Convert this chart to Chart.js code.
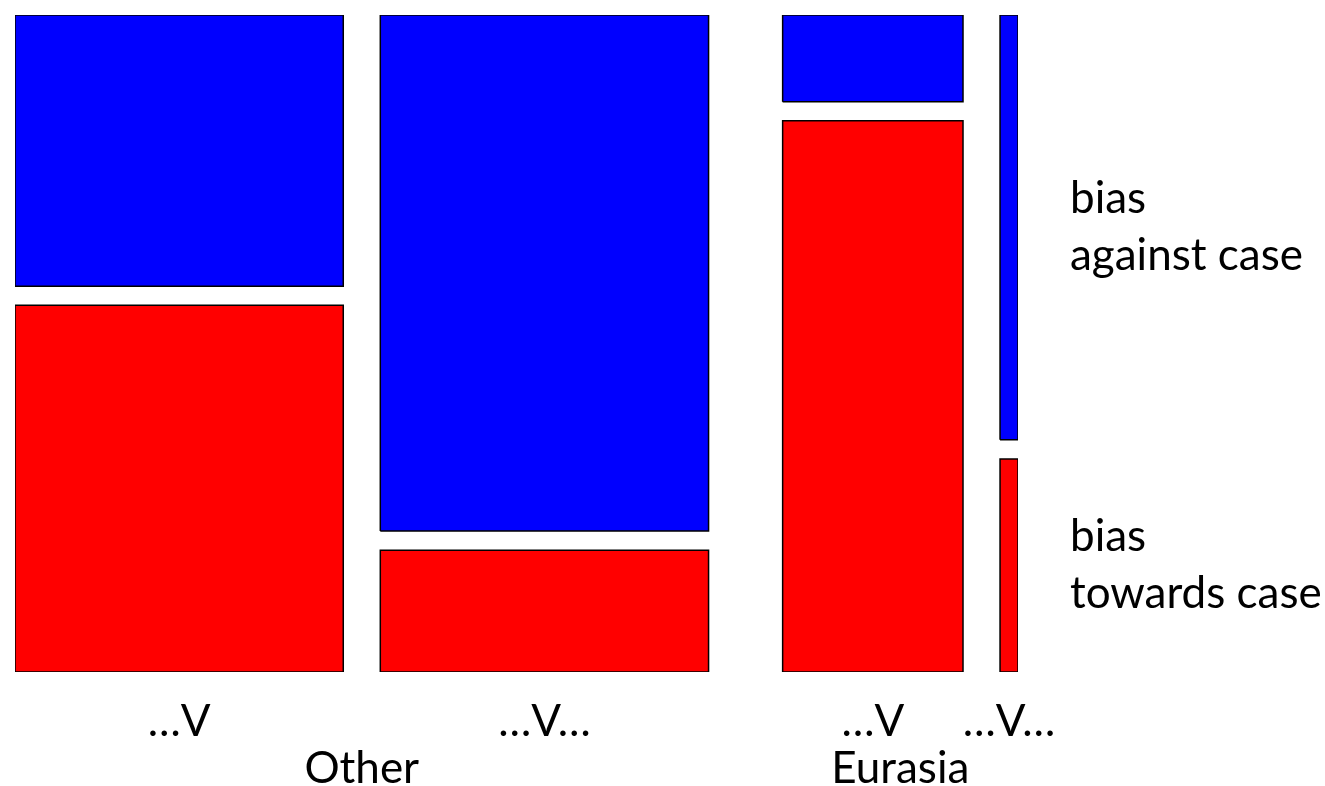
<!DOCTYPE html>
<html>
<head>
<meta charset="utf-8">
<script src="https://cdn.jsdelivr.net/npm/chart.js@4/dist/chart.umd.min.js"></script>
<style>
  body { margin: 0; background: #fff; }
</style>
</head>
<body>
<canvas id="myChart" width="1325" height="786"></canvas>
<script>
// mosaic data
const groups = ["Other", "Eurasia"];
const cellLabels = ["…V", "…V…", "…V", "…V…"];
const cellGroup = [0, 0, 1, 1];
const cellWeight = [0.384, 0.384, 0.211, 0.021]; // share of all cases
const againstShare = [0.425, 0.809, 0.136, 0.666]; // share biased against case
const rowLabels = [["bias", "against case"], ["bias", "towards case"]];

// layout in axis units
const BAR_UNITS = 854;
const GAP_IN = 37;
const GAP_GROUP = 74;
const GAP_Y = 0.029;
const FONT = "Lato";
const FONT_SIZE = 44;

let x = 0;
const cellLeft = [], cellRight = [];
cellWeight.forEach((w, i) => {
    if (i > 0) x += cellGroup[i] === cellGroup[i - 1] ? GAP_IN : GAP_GROUP;
    cellLeft.push(x);
    x += w * BAR_UNITS;
    cellRight.push(x);
});
const xMax = x;
const cellCenter = cellLeft.map((l, i) => (l + cellRight[i]) / 2);
const groupCenter = groups.map((g, gi) => {
    const idx = cellGroup.map((c, i) => c === gi ? i : -1).filter(i => i >= 0);
    return (cellLeft[idx[0]] + cellRight[idx[idx.length - 1]]) / 2;
});

function rect(x0, x1, y0, y1) {
    return [{x: x0, y: y0}, {x: x1, y: y0}, {x: x1, y: y1}, {x: x0, y: y1}, {x: x0, y: y0}];
}

const datasets = [];
const last = cellWeight.length - 1;
let rowTicks = [];
cellWeight.forEach((w, i) => {
    const redTop = (1 - GAP_Y) * (1 - againstShare[i]);
    const blueBottom = redTop + GAP_Y;
    datasets.push({
        data: rect(cellLeft[i], cellRight[i], blueBottom, 1),
        backgroundColor: "#0000ff"
    });
    datasets.push({
        data: rect(cellLeft[i], cellRight[i], 0, redTop),
        backgroundColor: "#ff0000"
    });
    if (i === last) rowTicks = [(blueBottom + 1) / 2, redTop / 2];
});
datasets.forEach(d => {
    d.showLine = true;
    d.fill = "shape";
    d.borderColor = "#000";
    d.borderWidth = 1.5;
    d.pointRadius = 0;
    d.tension = 0;
});

// fixed axis sizes, no extra label padding around the plot
function fixSize(w, h) {
    return axis => {
        if (w) axis.width = w;
        if (h) axis.height = h;
        axis.paddingTop = 0; axis.paddingBottom = 0;
        axis.paddingLeft = 0; axis.paddingRight = 0;
    };
}

const ctx = document.getElementById("myChart");
new Chart(ctx, {
    type: "scatter",
    data: { datasets: datasets },
    options: {
        responsive: false,
        animation: false,
        layout: { padding: { left: 15, top: 15, right: 0, bottom: 0 } },
        plugins: { legend: { display: false }, tooltip: { enabled: false } },
        scales: {
            x: {
                type: "linear", position: "bottom", min: 0, max: xMax, weight: 0,
                grid: { display: false, drawTicks: false }, border: { display: false },
                afterBuildTicks: axis => { axis.ticks = cellCenter.map(v => ({value: v})); },
                afterFit: fixSize(0, 66),
                ticks: {
                    autoSkip: false, maxRotation: 0, padding: 23, color: "#000",
                    font: { family: FONT, size: FONT_SIZE },
                    callback: (v, i) => cellLabels[i]
                }
            },
            x2: {
                type: "linear", position: "bottom", min: 0, max: xMax, weight: 1,
                grid: { display: false, drawTicks: false }, border: { display: false },
                afterBuildTicks: axis => { axis.ticks = groupCenter.map(v => ({value: v})); },
                afterFit: fixSize(0, 48),
                ticks: {
                    autoSkip: false, maxRotation: 0, padding: 4, color: "#000",
                    font: { family: FONT, size: FONT_SIZE },
                    callback: (v, i) => groups[i]
                }
            },
            y: {
                type: "linear", position: "right", min: 0, max: 1,
                grid: { display: false, drawTicks: false }, border: { display: false },
                afterBuildTicks: axis => { axis.ticks = rowTicks.map(v => ({value: v})); },
                afterFit: fixSize(307, 0),
                ticks: {
                    autoSkip: false, padding: 52, color: "#000",
                    font: { family: FONT, size: FONT_SIZE, lineHeight: 1.3 },
                    callback: (v, i) => rowLabels[i]
                }
            }
        }
    }
});
</script>
</body>
</html>
